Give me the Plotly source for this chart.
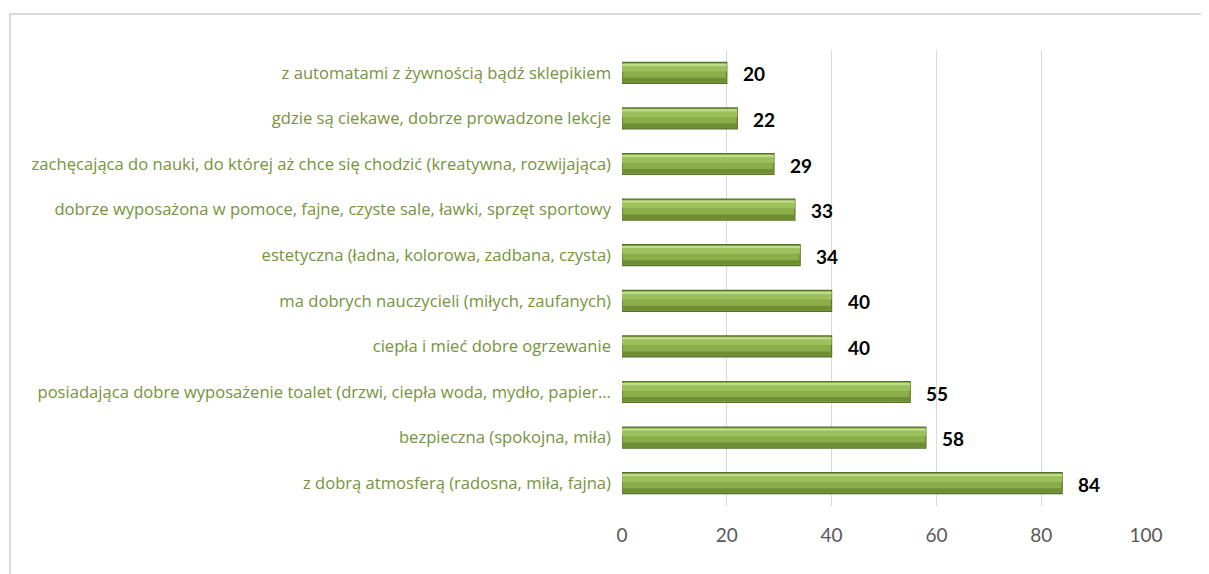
import plotly.graph_objects as go

# kategorie od dołu do góry (plotly rysuje pierwszą kategorię na dole)
categories = [
    "z dobrą atmosferą (radosna, miła, fajna)",
    "bezpieczna (spokojna, miła)",
    "posiadająca dobre wyposażenie toalet (drzwi, ciepła woda, mydło, papier…",
    "ciepła i mieć dobre ogrzewanie",
    "ma dobrych nauczycieli (miłych, zaufanych)",
    "estetyczna (ładna, kolorowa, zadbana, czysta)",
    "dobrze wyposażona w pomoce, fajne, czyste sale, ławki, sprzęt sportowy",
    "zachęcająca do nauki, do której aż chce się chodzić (kreatywna, rozwijająca)",
    "gdzie są ciekawe, dobrze prowadzone lekcje",
    "z automatami z żywnością bądź sklepikiem",
]
values = [84, 58, 55, 40, 40, 34, 33, 29, 22, 20]
tick_vals = [0, 20, 40, 60, 80, 100]

fig = go.Figure()

# korpus słupka z ciemnym obrysem
fig.add_trace(go.Bar(
    y=categories, x=values, orientation="h",
    width=0.46, offset=-0.23,
    marker=dict(color="#8BAE4B", line=dict(color="#55702A", width=1.2)),
    hoverinfo="x+y",
))
# dolny cień
fig.add_trace(go.Bar(
    y=categories, x=values, orientation="h",
    width=0.1, offset=-0.21,
    marker=dict(color="#6E8E34", line=dict(width=0)),
    hoverinfo="skip",
))
# jasna górna część
fig.add_trace(go.Bar(
    y=categories, x=values, orientation="h",
    width=0.12, offset=0.03,
    marker=dict(color="#9CC05C", line=dict(width=0)),
    hoverinfo="skip",
))
# jasne odbicie u góry
fig.add_trace(go.Bar(
    y=categories, x=values, orientation="h",
    width=0.05, offset=0.15,
    marker=dict(color="#BFDC8A", line=dict(width=0)),
    hoverinfo="skip",
))

# etykiety wartości
for cat, v in zip(categories, values):
    fig.add_annotation(
        x=v, y=cat, text=f"<b>{v}</b>", showarrow=False,
        xanchor="left", xshift=14, yshift=-1,
        font=dict(family="Lato, Open Sans, sans-serif", size=19, color="#000000"),
    )

# ramka wykresu
fig.add_shape(
    type="rect", xref="paper", yref="paper",
    x0=-1.168, x1=1.3, y0=-0.3, y1=1.079,
    line=dict(color="#D9D9D9", width=2), fillcolor="rgba(0,0,0,0)",
    layer="below",
)

fig.update_layout(
    width=1209, height=574,
    barmode="overlay",
    showlegend=False,
    plot_bgcolor="white", paper_bgcolor="white",
    margin=dict(l=614, r=71, t=42, b=76),
    font=dict(family="Open Sans, sans-serif"),
)
fig.update_xaxes(
    range=[0, 100], tickvals=tick_vals,
    showgrid=True, gridcolor="#D9D9D9", gridwidth=1,
    zeroline=False, showline=False,
    tickfont=dict(family="Lato, Open Sans, sans-serif", size=19, color="#595959"),
    ticks="", ticklen=0, ticklabelstandoff=16,
)
fig.update_yaxes(
    showgrid=False, showline=False, ticks="",
    tickfont=dict(family="Open Sans, sans-serif", size=16.6, color="#77933C"),
    ticklabelstandoff=10,
)

fig.write_html("out.html")
